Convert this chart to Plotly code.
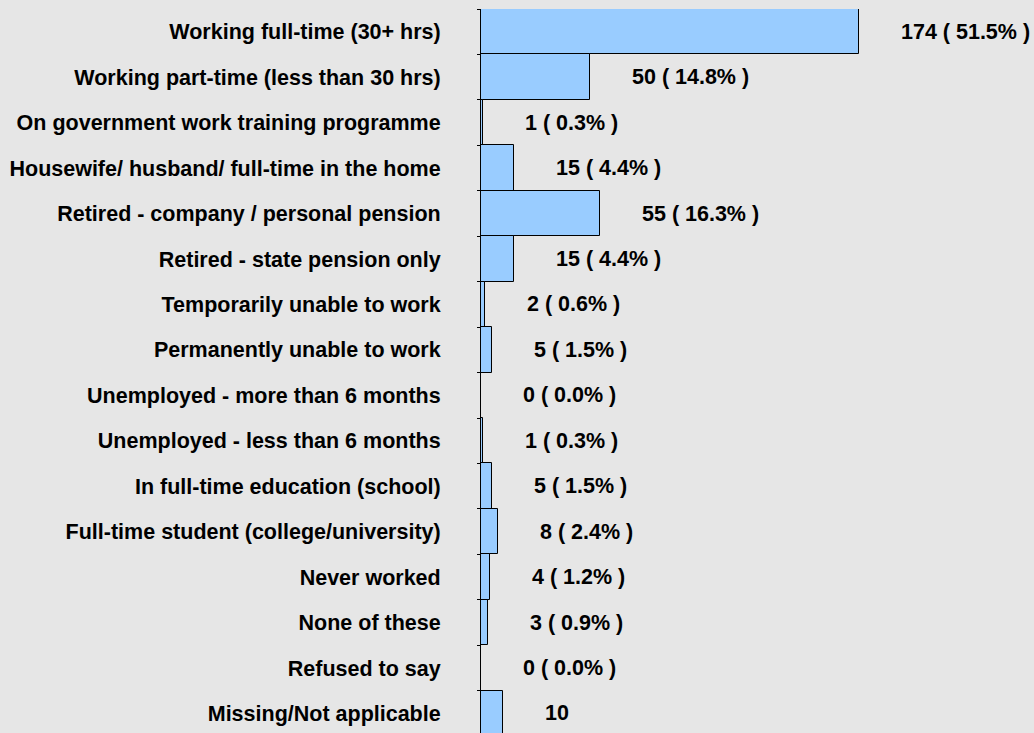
import plotly.graph_objects as go

categories = [
    "Working full-time (30+ hrs)",
    "Working part-time (less than 30 hrs)",
    "On government work training programme",
    "Housewife/ husband/ full-time in the home",
    "Retired - company / personal pension",
    "Retired - state pension only",
    "Temporarily unable to work",
    "Permanently unable to work",
    "Unemployed - more than 6 months",
    "Unemployed - less than 6 months",
    "In full-time education (school)",
    "Full-time student (college/university)",
    "Never worked",
    "None of these",
    "Refused to say",
    "Missing/Not applicable",
]
counts = [174, 50, 1, 15, 55, 15, 2, 5, 0, 1, 5, 8, 4, 3, 0, 10]
percents = ["51.5", "14.8", "0.3", "4.4", "16.3", "4.4", "0.6", "1.5",
            "0.0", "0.3", "1.5", "2.4", "1.2", "0.9", "0.0", None]

labels = [f"{c} ( {p}% )" if p is not None else f"{c}" for c, p in zip(counts, percents)]

FONT = "Liberation Sans, Arial, sans-serif"
BG = "#e6e6e6"
TXT = "#000000"
FS = 21.5

fig = go.Figure()
fig.add_trace(go.Bar(
    x=counts,
    y=categories,
    orientation="h",
    width=1.0,
    marker=dict(color="#99ccff", line=dict(color="#000000", width=1)),
    hoverinfo="x+y",
))

for c, cat, lab in zip(counts, categories, labels):
    fig.add_annotation(
        x=c, y=cat, xref="x", yref="y",
        text=lab, showarrow=False,
        xanchor="left", yanchor="middle", xshift=40,
        font=dict(family=FONT, size=FS, color=TXT, weight="bold"),
    )

fig.update_layout(
    width=1034, height=733,
    margin=dict(l=481, r=0, t=9, b=0, pad=0),
    paper_bgcolor=BG, plot_bgcolor=BG,
    showlegend=False,
    bargap=0,
    font=dict(family=FONT, size=FS, color=TXT),
)
fig.update_xaxes(range=[0, 254.6], showgrid=False, zeroline=False,
                 showticklabels=False, ticks="", showline=False)
fig.update_yaxes(
    type="category",
    categoryorder="array", categoryarray=categories,
    range=[15.43, -0.5],
    showgrid=False, zeroline=False,
    showline=True, linecolor="#000000", linewidth=1,
    ticks="outside", tickson="boundaries", ticklen=3, tickcolor="#000000",
    ticklabelstandoff=35,
    tickfont=dict(family=FONT, size=FS, color=TXT, weight="bold"),
)

fig.write_html(
    "out.html",
    config={"displayModeBar": False},
    post_script="document.body.style.margin='0';document.body.style.overflow='hidden';",
)
